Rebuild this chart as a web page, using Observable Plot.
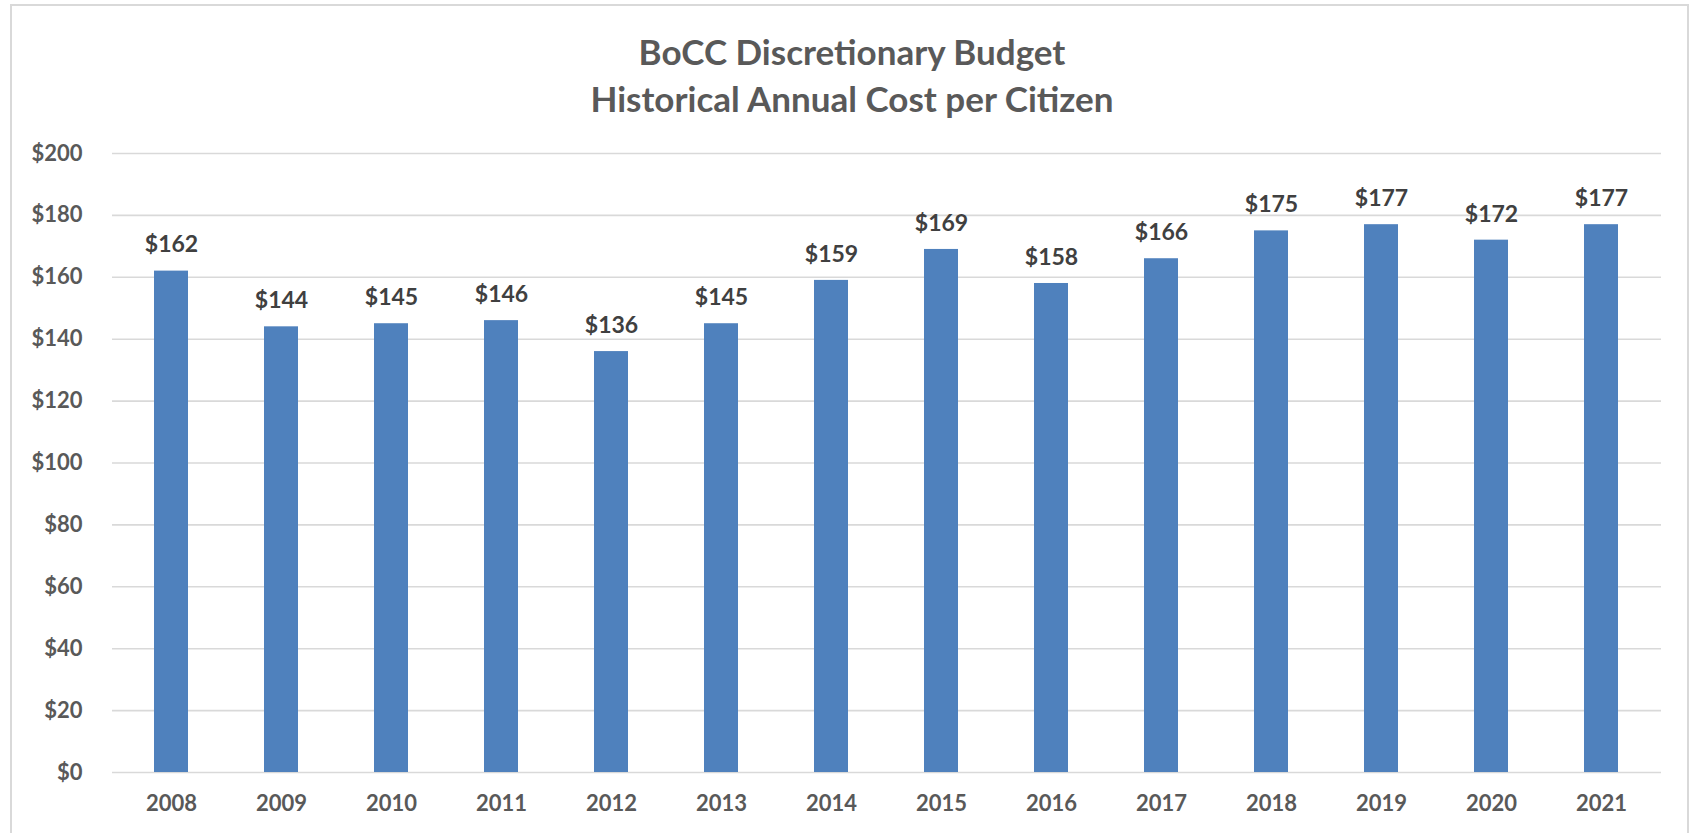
<!DOCTYPE html>
<html>
<head>
<meta charset="utf-8">
<script src="https://cdn.jsdelivr.net/npm/d3@7"></script>
<script src="https://cdn.jsdelivr.net/npm/@observablehq/plot@0.6"></script>
<style>
  html, body { margin: 0; padding: 0; background: #fff; overflow: hidden; }
  #page { position: relative; width: 1693px; height: 833px; }
  #frame { position: absolute; left: 10px; top: 4px; width: 1679px; height: 850px; border: 2px solid #d9d9d9; box-sizing: border-box; }
  #title { position: absolute; left: 10px; top: 0; width: 1684px; height: 140px; padding-top: 28px; box-sizing: border-box;
           text-align: center; font-family: Lato, "Open Sans", sans-serif; font-weight: bold; font-size: 35px; line-height: 47px; color: #595959; }
  #chart { position: absolute; left: 0; top: 140px; }
</style>
</head>
<body>
<div id="page">
  <div id="frame"></div>
  <div id="title">BoCC Discretionary Budget<br>Historical Annual Cost per Citizen</div>
  <div id="chart"></div>
</div>
<script>
const years = ["2008","2009","2010","2011","2012","2013","2014","2015","2016","2017","2018","2019","2020","2021"];
const costs = [162, 144, 145, 146, 136, 145, 159, 169, 158, 166, 175, 177, 172, 177];
const yTicks = [0, 20, 40, 60, 80, 100, 120, 140, 160, 180, 200];

const data = years.map((year, i) => ({ year, cost: costs[i] }));
const fmt = d => "$" + d;

const chart = Plot.plot({
  width: 1693,
  height: 693,
  marginLeft: 112,
  marginRight: 32,
  marginTop: 13,
  marginBottom: 61,
  style: { fontFamily: "Lato, 'Open Sans', sans-serif", fontSize: "22px", fontWeight: "bold", color: "#595959", background: "transparent" },
  x: { domain: years, paddingInner: 0.69, paddingOuter: 0.345, label: null },
  y: { domain: [0, 200], label: null },
  marks: [
    Plot.gridY(yTicks, { stroke: "#d9d9d9", strokeOpacity: 1, strokeWidth: 1.6 }),
    Plot.barY(data, { x: "year", y: "cost", fill: "#4f81bd" }),
    Plot.text(data, { x: "year", y: "cost", text: d => fmt(d.cost), dy: -26, fill: "#404040", fontSize: 23, fontWeight: "bold" }),
    Plot.axisY({ ticks: yTicks, tickFormat: fmt, tickSize: 0, tickPadding: 30, label: null }),
    Plot.axisX({ tickSize: 0, tickPadding: 23, label: null })
  ]
});
document.getElementById("chart").appendChild(chart);
</script>
</body>
</html>
